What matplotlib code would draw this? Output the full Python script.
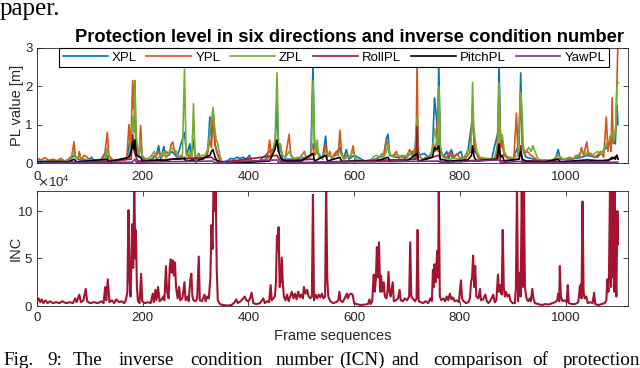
"""Protection level and inverse condition number, two stacked panels."""

import matplotlib

matplotlib.use("Agg")
import matplotlib.pyplot as plt
from matplotlib.ticker import ScalarFormatter

plt.rcParams["font.family"] = ["Liberation Sans", "DejaVu Sans"]

# (frame, value) key points
xpl_pts = [(0, 0.05), (20, 0.04), (40, 0.05), (60, 0.06), (70, 0.2), (80, 0.08), (98, 0.08), (103, 0.15),
           (107, 0.08), (120, 0.05), (130, 0.3), (134, 0.1), (150, 0.05), (170, 0.1), (181, 1.0), (185, 1.2),
           (188, 0.3), (196, 0.4), (200, 0.1), (215, 0.08), (226, 0.2), (230, 0.45), (234, 0.1), (240, 0.43),
           (244, 0.15), (255, 0.3), (265, 0.15), (279, 0.8), (283, 0.2), (289, 0.5), (292, 0.1), (296, 0.6),
           (300, 0.1), (315, 0.1), (323, 0.3), (327, 1.2), (330, 0.6), (333, 1.3), (337, 0.5), (342, 0.2),
           (348, 0.03), (360, 0.05), (366, 0.12), (372, 0.1), (378, 0.15), (384, 0.12), (390, 0.15), (396, 0.1),
           (402, 0.2), (406, 0.05), (420, 0.05), (440, 0.3), (450, 0.4), (454, 1.5), (457, 0.3), (460, 0.5),
           (464, 0.1), (480, 0.1), (500, 0.1), (518, 0.2), (522, 2.55), (525, 0.4), (530, 0.3), (540, 0.1),
           (546, 0.7), (549, 0.2), (560, 0.15), (573, 0.4), (580, 0.1), (585, 0.35), (590, 0.1), (600, 0.2),
           (620, 0.05), (640, 0.1), (656, 0.2), (661, 0.65), (664, 0.75), (667, 0.2), (680, 0.15), (700, 0.15),
           (710, 0.3), (714, 0.1), (719, 1.2), (722, 0.2), (733, 0.25), (740, 0.15), (748, 0.3), (752, 1.7),
           (756, 1.15), (758, 0.5), (760, 2.6), (763, 0.4), (768, 0.15), (775, 0.3), (779, 0.1), (784, 0.35),
           (788, 0.15), (802, 0.3), (806, 0.1), (815, 0.3), (824, 1.2), (828, 0.3), (840, 0.1), (860, 0.1),
           (872, 0.8), (874, 2.6), (877, 0.5), (880, 0.6), (884, 0.2), (900, 0.1), (912, 0.5), (915, 2.35),
           (918, 0.4), (925, 0.15), (940, 0.1), (960, 0.05), (980, 0.08), (986, 0.35), (990, 0.1), (1010, 0.1),
           (1030, 0.15), (1040, 0.2), (1060, 0.15), (1077, 0.4), (1088, 0.6), (1094, 0.5), (1097, 1.5),
           (1099, 1.0)]

ypl_pts = [(0, 0.12), (8, 0.08), (15, 0.14), (22, 0.07), (30, 0.1), (38, 0.06), (45, 0.12), (52, 0.05),
           (60, 0.1), (66, 0.2), (70, 0.55), (73, 0.15), (78, 0.12), (80, 0.3), (83, 0.1), (90, 0.2), (95, 0.15),
           (100, 0.06), (108, 0.08), (115, 0.05), (122, 0.1), (128, 0.2), (133, 0.8), (136, 0.2), (142, 0.1),
           (150, 0.05), (158, 0.1), (165, 0.07), (170, 0.15), (174, 1.0), (177, 0.3), (181, 2.15), (183, 1.4),
           (185, 2.15), (187, 0.5), (190, 0.2), (193, 0.15), (196, 0.98), (199, 0.2), (205, 0.1), (212, 0.12),
           (218, 0.2), (224, 0.15), (230, 0.3), (235, 0.15), (240, 0.2), (245, 0.3), (250, 0.2), (254, 0.5),
           (257, 0.55), (260, 0.3), (264, 0.2), (268, 0.15), (272, 0.2), (277, 0.12), (280, 0.15), (285, 0.1),
           (290, 0.2), (295, 0.1), (300, 0.12), (306, 0.25), (310, 0.1), (316, 0.15), (322, 0.2), (327, 0.6),
           (330, 0.4), (333, 1.4), (336, 0.5), (340, 0.3), (345, 0.1), (350, 0.03), (360, 0.03), (370, 0.04),
           (380, 0.05), (390, 0.06), (400, 0.05), (410, 0.04), (420, 0.06), (430, 0.08), (436, 0.15), (440, 0.6),
           (443, 0.2), (447, 0.35), (450, 0.6), (454, 0.5), (457, 0.3), (460, 0.5), (464, 0.2), (470, 0.15),
           (477, 0.75), (480, 0.2), (486, 0.1), (492, 0.12), (498, 0.15), (506, 0.3), (510, 0.1), (516, 0.15),
           (522, 0.5), (525, 0.2), (530, 0.3), (536, 0.12), (542, 0.2), (546, 0.5), (549, 0.15), (554, 0.3),
           (558, 0.1), (561, 0.2), (566, 0.3), (570, 0.2), (573, 0.85), (576, 0.3), (580, 0.1), (585, 0.2),
           (590, 0.15), (594, 0.2), (598, 0.45), (601, 0.15), (606, 0.06), (612, 0.05), (620, 0.06), (628, 0.05),
           (635, 0.07), (642, 0.1), (648, 0.08), (655, 0.1), (661, 0.6), (664, 0.4), (668, 0.2), (674, 0.2),
           (680, 0.3), (684, 0.12), (690, 0.2), (696, 0.1), (700, 0.2), (705, 0.35), (710, 0.2), (715, 0.4),
           (717, 0.2), (719, 2.6), (721, 0.3), (725, 0.15), (730, 0.1), (735, 0.15), (740, 0.12), (745, 0.2),
           (750, 0.5), (753, 0.3), (756, 0.6), (760, 2.0), (763, 0.3), (768, 0.2), (775, 0.15), (781, 0.3),
           (786, 0.12), (791, 0.2), (795, 0.25), (800, 0.12), (805, 0.15), (810, 0.1), (815, 0.2), (820, 0.3),
           (824, 1.5), (827, 0.5), (830, 0.3), (835, 0.12), (840, 0.1), (846, 0.12), (852, 0.1), (858, 0.08),
           (864, 0.1), (870, 0.2), (874, 1.9), (877, 0.4), (880, 0.5), (884, 0.2), (890, 0.12), (896, 0.15),
           (902, 0.1), (907, 1.3), (910, 0.2), (915, 1.8), (918, 0.6), (922, 0.25), (928, 0.3), (934, 0.2),
           (940, 0.15), (946, 0.08), (952, 0.06), (960, 0.08), (968, 0.07), (976, 0.06), (984, 0.1), (990, 0.15),
           (996, 0.1), (1002, 0.12), (1008, 0.15), (1014, 0.1), (1020, 0.2), (1026, 0.15), (1030, 0.4),
           (1034, 0.2), (1040, 0.55), (1043, 0.2), (1048, 0.25), (1054, 0.15), (1060, 0.2), (1066, 0.3),
           (1072, 0.15), (1077, 1.2), (1080, 0.3), (1084, 0.7), (1086, 0.3), (1088, 1.7), (1090, 0.5),
           (1095, 0.9), (1099, 3.2)]

zpl_pts = [(0, 0.03), (20, 0.05), (40, 0.04), (60, 0.05), (70, 0.3), (75, 0.1), (80, 0.15), (95, 0.08),
           (110, 0.05), (128, 0.1), (133, 0.4), (136, 0.1), (150, 0.06), (170, 0.1), (177, 0.3), (181, 1.2),
           (183, 0.8), (185, 2.15), (188, 0.7), (192, 0.2), (196, 0.6), (199, 0.15), (210, 0.08), (222, 0.3),
           (226, 0.1), (235, 0.2), (240, 0.3), (245, 0.15), (254, 0.4), (258, 0.35), (264, 0.3), (268, 0.1),
           (275, 0.15), (279, 2.45), (282, 0.3), (286, 0.15), (289, 0.3), (293, 0.15), (296, 1.55), (299, 0.2),
           (306, 0.15), (312, 0.2), (318, 0.2), (324, 0.4), (327, 0.9), (330, 1.1), (333, 1.45), (336, 0.95),
           (339, 0.6), (342, 0.5), (346, 0.2), (350, 0.03), (370, 0.03), (390, 0.04), (410, 0.05), (430, 0.05),
           (445, 0.2), (450, 0.4), (454, 2.35), (457, 0.5), (460, 0.5), (464, 0.2), (470, 0.15), (477, 0.3),
           (485, 0.12), (495, 0.15), (505, 0.15), (515, 0.12), (519, 0.2), (522, 2.15), (525, 0.6), (528, 0.3),
           (530, 0.6), (533, 0.15), (540, 0.12), (546, 0.3), (552, 0.2), (560, 0.15), (566, 0.2), (573, 0.3),
           (580, 0.1), (590, 0.15), (598, 0.3), (602, 0.1), (615, 0.05), (630, 0.06), (636, 0.15), (642, 0.2),
           (648, 0.15), (652, 0.25), (656, 0.15), (661, 0.3), (664, 0.5), (668, 0.2), (675, 0.15), (680, 0.25),
           (688, 0.15), (695, 0.2), (700, 0.15), (706, 0.25), (712, 0.15), (716, 0.3), (719, 1.2), (722, 0.2),
           (730, 0.1), (740, 0.12), (748, 0.3), (752, 0.9), (756, 0.6), (758, 0.3), (760, 2.0), (763, 0.4),
           (768, 0.15), (778, 0.1), (790, 0.12), (800, 0.1), (810, 0.15), (815, 0.35), (819, 0.3), (822, 0.8),
           (824, 2.1), (826, 1.0), (828, 0.7), (832, 0.3), (838, 0.15), (850, 0.12), (865, 0.1), (872, 0.5),
           (874, 2.1), (876, 0.6), (880, 0.75), (884, 0.3), (890, 0.15), (900, 0.12), (910, 0.2), (915, 1.85),
           (918, 1.2), (920, 0.35), (925, 0.3), (930, 0.4), (935, 0.3), (938, 0.45), (942, 0.3), (948, 0.1),
           (960, 0.06), (975, 0.08), (986, 0.2), (995, 0.1), (1010, 0.12), (1020, 0.15), (1030, 0.3),
           (1036, 0.2), (1042, 0.3), (1050, 0.2), (1060, 0.3), (1066, 0.25), (1070, 0.3), (1077, 0.5),
           (1084, 0.6), (1088, 0.8), (1092, 0.6), (1095, 1.0), (1097, 2.0), (1099, 2.1)]

roll_pts = [(0, 0.02), (100, 0.02), (178, 0.1), (181, 0.75), (184, 0.3), (190, 0.05), (330, 0.15), (334, 0.1),
            (350, 0.02), (454, 0.2), (460, 0.05), (522, 0.1), (530, 0.02), (717, 0.1), (719, 0.95), (721, 0.05),
            (760, 0.2), (765, 0.02), (872, 0.1), (874, 0.4), (877, 0.05), (912, 0.1), (915, 0.45), (918, 0.05),
            (1050, 0.03), (1088, 0.1), (1097, 0.2), (1099, 0.1)]

pitch_pts = [(0, 0.03), (30, 0.04), (60, 0.03), (70, 0.1), (75, 0.03), (133, 0.1), (136, 0.03), (174, 0.15),
             (178, 0.3), (181, 0.55), (183, 0.35), (185, 0.6), (188, 0.2), (196, 0.15), (200, 0.04), (230, 0.08),
             (240, 0.06), (255, 0.1), (279, 0.12), (282, 0.04), (296, 0.08), (300, 0.03), (327, 0.2), (330, 0.3),
             (333, 0.35), (337, 0.15), (342, 0.04), (350, 0.02), (400, 0.02), (440, 0.05), (450, 0.35),
             (454, 0.6), (457, 0.3), (462, 0.1), (470, 0.05), (500, 0.05), (522, 0.25), (525, 0.05), (546, 0.2),
             (550, 0.05), (573, 0.15), (576, 0.04), (600, 0.05), (640, 0.04), (664, 0.15), (668, 0.04),
             (700, 0.05), (719, 0.25), (722, 0.04), (748, 0.15), (752, 0.4), (756, 0.35), (760, 0.45),
             (763, 0.1), (780, 0.05), (815, 0.08), (822, 0.2), (824, 0.45), (827, 0.15), (832, 0.05), (870, 0.1),
             (874, 0.5), (877, 0.15), (880, 0.2), (884, 0.05), (912, 0.1), (915, 0.3), (918, 0.1), (925, 0.05),
             (960, 0.03), (986, 0.1), (990, 0.03), (1040, 0.08), (1080, 0.05), (1088, 0.15), (1094, 0.1),
             (1097, 0.2), (1099, 0.1)]

yaw_pts = [(0, 0.01), (180, 0.02), (185, 0.1), (188, 0.02), (333, 0.05), (336, 0.01), (454, 0.08), (457, 0.01),
           (760, 0.05), (763, 0.01), (874, 0.08), (877, 0.01), (915, 0.04), (918, 0.01), (1099, 0.02)]

# inverse condition number, in units of 1e4
inc_pts = [(0, 0.5), (3, 0.8), (6, 0.4), (9, 0.7), (12, 0.3), (16, 0.6), (20, 0.3), (25, 0.5), (30, 0.3),
           (36, 0.4), (42, 0.3), (48, 0.5), (55, 0.3), (62, 0.4), (68, 0.3), (72, 0.8), (75, 0.4), (80, 1.2),
           (83, 0.4), (88, 0.6), (92, 1.8), (95, 0.5), (100, 0.3), (108, 0.4), (115, 0.3), (122, 0.5), (126, 0.3),
           (129, 2.0), (131, 0.6), (134, 2.8), (137, 0.4), (142, 0.6), (146, 0.3), (150, 0.7), (155, 0.4),
           (160, 0.5), (165, 0.3), (168, 0.6), (171, 1.5), (173, 10.1), (175, 3.0), (177, 1.0), (180, 8.6),
           (182, 4.0), (184, 13.0), (186, 5.0), (187, 8.0), (189, 2.0), (191, 0.5), (194, 0.3), (197, 3.4),
           (199, 0.5), (204, 0.3), (210, 0.4), (215, 0.3), (219, 1.3), (221, 0.4), (224, 1.7), (226, 0.6),
           (229, 2.0), (232, 0.5), (236, 0.7), (239, 1.0), (241, 0.6), (244, 4.2), (246, 1.5), (249, 0.8),
           (251, 4.0), (253, 4.9), (255, 3.5), (257, 4.8), (259, 3.2), (261, 4.6), (263, 2.0), (266, 0.8),
           (269, 2.0), (271, 0.6), (275, 0.8), (279, 2.5), (281, 0.6), (285, 1.0), (287, 0.5), (290, 2.8),
           (292, 3.4), (294, 1.0), (296, 0.6), (300, 0.5), (303, 0.8), (306, 5.2), (308, 0.6), (312, 0.5),
           (317, 1.2), (319, 0.5), (322, 1.0), (325, 0.8), (328, 3.0), (330, 8.5), (332, 6.0), (334, 13.0),
           (336, 10.0), (338, 13.0), (340, 4.0), (342, 0.6), (346, 0.2), (352, 0.1), (360, 0.05), (368, 0.1),
           (374, 0.4), (377, 0.7), (380, 0.3), (385, 0.5), (390, 0.8), (393, 1.0), (396, 0.6), (400, 0.5),
           (403, 0.8), (406, 1.4), (409, 0.3), (415, 0.2), (422, 0.3), (428, 0.8), (431, 0.3), (435, 0.5),
           (439, 0.4), (442, 2.2), (444, 0.6), (447, 0.8), (450, 1.0), (452, 2.5), (454, 7.4), (456, 6.0),
           (457, 8.3), (459, 2.0), (461, 2.5), (463, 5.1), (465, 2.5), (467, 1.0), (470, 0.6), (473, 1.2),
           (476, 0.5), (479, 1.0), (482, 1.5), (485, 0.8), (488, 1.3), (491, 0.7), (494, 1.5), (497, 0.9),
           (500, 1.2), (503, 0.8), (505, 2.0), (508, 1.3), (511, 1.7), (514, 1.0), (517, 0.8), (520, 1.0),
           (522, 11.7), (524, 0.6), (527, 1.2), (530, 0.8), (533, 1.2), (536, 0.9), (539, 1.3), (542, 0.8),
           (545, 1.0), (547, 13.0), (549, 3.0), (551, 1.0), (555, 0.5), (560, 0.3), (566, 0.4), (570, 0.6),
           (572, 1.5), (574, 0.6), (578, 0.4), (582, 0.8), (586, 1.3), (588, 0.8), (591, 1.2), (594, 1.3),
           (597, 1.2), (600, 0.3), (605, 0.2), (612, 0.1), (620, 0.15), (626, 0.2), (629, 0.7), (631, 0.2),
           (634, 0.5), (637, 3.3), (639, 1.5), (641, 2.8), (643, 6.2), (645, 3.0), (647, 6.7), (649, 1.5),
           (651, 3.2), (653, 1.5), (656, 2.5), (658, 1.0), (661, 0.8), (663, 1.5), (665, 3.6), (667, 1.5),
           (669, 1.0), (673, 2.5), (675, 0.5), (679, 0.6), (683, 0.8), (686, 1.7), (688, 0.6), (692, 0.5),
           (696, 0.8), (700, 0.6), (704, 1.0), (706, 6.7), (708, 1.0), (711, 0.8), (715, 0.5), (718, 0.8),
           (720, 8.0), (722, 0.5), (726, 0.4), (730, 0.3), (735, 0.5), (740, 0.3), (744, 0.8), (747, 0.5),
           (749, 3.8), (751, 2.0), (752, 4.4), (754, 2.5), (757, 5.8), (759, 3.0), (760, 13.0), (762, 1.0),
           (765, 0.6), (769, 0.8), (772, 0.5), (775, 1.0), (778, 0.6), (781, 1.3), (784, 0.7), (787, 0.9),
           (790, 0.5), (794, 0.6), (798, 0.4), (802, 2.7), (804, 0.8), (807, 0.5), (812, 0.3), (816, 0.4),
           (819, 0.8), (821, 2.5), (823, 3.0), (825, 5.3), (827, 2.0), (829, 4.2), (831, 1.0), (835, 0.8),
           (838, 1.8), (840, 0.6), (844, 0.7), (848, 1.2), (851, 0.5), (854, 0.3), (857, 0.5), (860, 0.8),
           (863, 1.2), (866, 0.4), (869, 0.6), (872, 3.3), (874, 1.5), (877, 2.2), (879, 1.2), (881, 8.0),
           (883, 2.0), (885, 1.0), (887, 1.5), (890, 1.0), (893, 1.2), (896, 0.5), (900, 0.3), (904, 0.3),
           (906, 2.0), (908, 13.0), (910, 0.5), (913, 3.5), (915, 1.0), (917, 13.0), (919, 2.0), (921, 13.0),
           (923, 2.0), (926, 0.8), (929, 0.5), (932, 0.8), (934, 0.5), (937, 1.8), (939, 0.8), (942, 0.3),
           (948, 0.2), (955, 0.1), (962, 0.2), (968, 0.15), (975, 0.3), (980, 0.4), (984, 0.6), (986, 1.3),
           (988, 0.5), (989, 4.2), (991, 1.0), (994, 0.5), (998, 0.6), (1002, 0.4), (1004, 2.2), (1006, 0.3),
           (1012, 0.2), (1018, 0.2), (1024, 0.4), (1027, 2.1), (1028, 1.0), (1029, 2.3), (1030, 0.8),
           (1032, 11.0), (1034, 1.5), (1036, 0.8), (1039, 1.0), (1042, 0.3), (1047, 0.4), (1051, 0.3),
           (1054, 1.4), (1056, 0.2), (1062, 0.1), (1068, 0.2), (1074, 0.3), (1077, 0.6), (1079, 2.8),
           (1081, 1.5), (1082, 3.0), (1084, 13.0), (1086, 2.0), (1087, 13.0), (1089, 3.0), (1090, 13.0),
           (1092, 1.5), (1093, 13.0), (1094, 4.5), (1096, 1.0), (1098, 10.0), (1099, 6.5)]

pl_series = [
    ("XPL", xpl_pts, "#0072BD"),
    ("YPL", ypl_pts, "#D95319"),
    ("ZPL", zpl_pts, "#77AC30"),
    ("RollPL", roll_pts, "#A2142F"),
    ("PitchPL", pitch_pts, "#000000"),
    ("YawPL", yaw_pts, "#7E2F8E"),
]

x_ticks = [0, 200, 400, 600, 800, 1000]
x_max = 1118

W, H = 640, 368
fig = plt.figure(figsize=(W / 100, H / 100), dpi=100)


def px_box(left, top, right, bottom):
    return [left / W, 1 - bottom / H, (right - left) / W, (bottom - top) / H]


def style_axes(ax):
    for spine in ax.spines.values():
        spine.set_color("#262626")
        spine.set_linewidth(0.6)
    ax.tick_params(direction="in", top=True, right=True, length=3.5, width=0.6,
                   labelsize=9.5, colors="#262626", pad=4)
    ax.tick_params(axis="y", pad=3)
    ax.set_xlim(0, x_max)
    ax.set_xticks(x_ticks)


ax1 = fig.add_axes(px_box(37, 48, 628, 163))
for name, pts, color in pl_series:
    frames, vals = zip(*pts)
    ax1.plot(frames, vals, color=color, lw=1.2, label=name)
style_axes(ax1)
ax1.set_ylim(0, 3)
ax1.set_yticks([0, 1, 2, 3])
ax1.tick_params(axis="x", pad=5.5)
ax1.set_ylabel("PL value [m]", fontsize=10.5, color="#262626")
ax1.yaxis.set_label_coords(-0.022, 0.5)
leg = ax1.legend(loc="upper center", bbox_to_anchor=(0.5025, 1.0), ncol=6, fontsize=9.5,
                 handlelength=3.4, handletextpad=0.3, columnspacing=0.75, borderpad=0.25,
                 borderaxespad=0, fancybox=False, framealpha=1, edgecolor="#000000")
leg.get_frame().set_linewidth(0.8)

ax2 = fig.add_axes(px_box(37, 191, 628, 306))
inc_f, inc_v = zip(*inc_pts)
ax2.plot(inc_f, [v * 1e4 for v in inc_v], color="#A2142F", lw=1.5)
style_axes(ax2)
ax2.set_ylim(0, 12.1e4)
ax2.set_yticks([0, 5e4, 10e4])
fmt = ScalarFormatter(useMathText=True)
fmt.set_powerlimits((4, 4))
ax2.yaxis.set_major_formatter(fmt)
ax2.yaxis.get_offset_text().set_fontsize(9.5)
ax2.set_ylabel("INC", fontsize=10.5, color="#262626")
ax2.yaxis.set_label_coords(-0.025, 0.5)
ax2.set_xlabel("Frame sequences", fontsize=10.5, color="#262626")
ax2.xaxis.set_label_coords(0.5, -0.2)

fig.text(349.5 / W, 1 - 42 / H, "Protection level in six directions and inverse condition number",
         ha="center", va="baseline", fontsize=13.2, fontweight="bold")

serif = ["Liberation Serif", "DejaVu Serif"]
fig.text(0, 1 - 15 / H, "paper.", ha="left", va="baseline", fontsize=18, family=serif)

caption_words = [("Fig.", 3), ("9:", 47), ("The", 73), ("inverse", 119), ("condition", 190),
                 ("number", 276), ("(ICN)", 339), ("and", 391), ("comparison", 433), ("of", 532),
                 ("protection", 563)]
for word, x in caption_words:
    fig.text(x / W, 1 - 365 / H, word, ha="left", va="baseline", fontsize=13.8, family=serif)

fig.savefig("out.png", dpi=100)
